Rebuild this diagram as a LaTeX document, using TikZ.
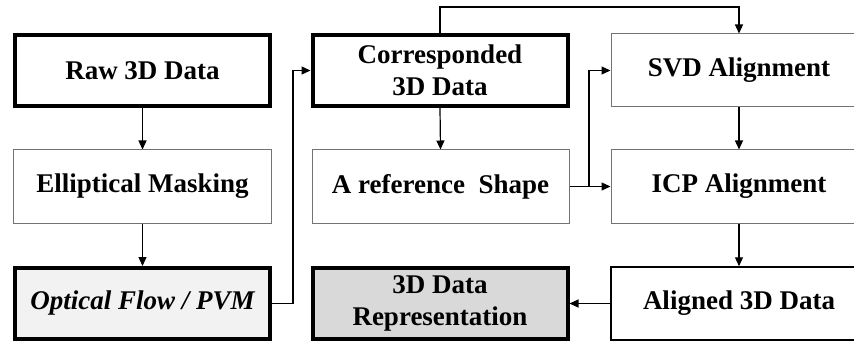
\documentclass[tikz,border=0pt]{standalone}
\usepackage{fontspec}
\setmainfont{Liberation Serif}
\usetikzlibrary{arrows.meta}
\begin{document}
\begin{tikzpicture}[x=1pt,y=-1pt,
  box/.style={draw=gray!90!black, line width=1pt, minimum width=258pt, minimum height=73pt, inner sep=0pt,
    font=\fontsize{27}{32}\selectfont\bfseries, align=center, fill=white},
  thickbox/.style={box, draw=black, line width=4pt, minimum width=255pt, minimum height=71pt},
  arr/.style={-{Triangle[length=9pt,width=8pt]}, line width=1.2pt, black},
  ln/.style={line width=1.2pt, black}]
\useasboundingbox (0,0) rectangle (854,342);
\begin{scope}
\clip (0,0) rectangle (854,342);
\node[thickbox] (raw) at (142.5,70.5) {Raw 3D Data};
\node[box] (ell) at (142.5,186.5) {Elliptical Masking};
\node[thickbox, fill=black!5] (ofp) at (142.5,303.5) {\itshape Optical Flow / PVM};
\node[thickbox] (cor) at (440,70.5) {Corresponded\\3D Data};
\node[box, minimum width=257pt] (ref) at (440.5,186.5) {A reference\ \ Shape};
\node[thickbox, fill=black!15] (rep) at (440,303.5) {3D Data\\Representation};
\node[box, minimum width=256pt] (svd) at (739,70.5) {SVD Alignment};
\node[box, minimum width=256pt] (icp) at (739,186.5) {ICP Alignment};
\node[box, draw=black, line width=1.5pt, minimum width=256pt] (ali) at (739,303.5) {Aligned 3D Data};
\end{scope}
\draw[arr] (raw.south) -- (ell.north);
\draw[arr] (ell.south) -- (ofp.north);
\draw[arr] (ofp.east) -- ++(21,0) |- (cor.west);
\draw[arr] (cor.south) -- (ref.north);
\draw[arr] (cor.north) -- ++(0,-26) -| (svd.north);
\draw[arr] (ref.east) -- (icp.west);
\coordinate (br) at (589,186.5);
\draw[arr] (br) |- (svd.west);
\draw[arr] (svd.south) -- (icp.north);
\draw[arr] (icp.south) -- (ali.north);
\draw[arr] (ali.west) -- (rep.east);
\end{tikzpicture}
\end{document}
